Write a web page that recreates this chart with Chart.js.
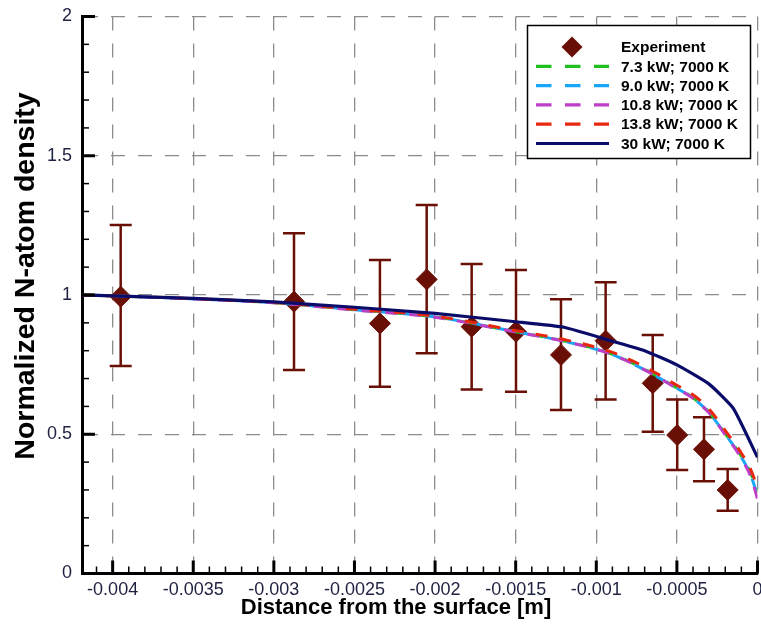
<!DOCTYPE html>
<html lang="en">
<head>
  <meta charset="UTF-8" />
  <title>Normalized N-atom density</title>
  <script src="https://cdn.jsdelivr.net/npm/chart.js"></script>
  <style>
    body { margin: 0; background: #fff; }
    #chart { display: block; }
  </style>
</head>
<body>
<canvas id="chart" width="761" height="626"></canvas>
<script>
// axis ticks
const xTickValues = [-0.004, -0.0035, -0.003, -0.0025, -0.002, -0.0015, -0.001, -0.0005, 0];
const xTickLabels = ['-0.004', '-0.0035', '-0.003', '-0.0025', '-0.002', '-0.0015', '-0.001', '-0.0005', '0'];
const yTickValues = [0, 0.5, 1, 1.5, 2];
const yTickLabels = ['0', '0.5', '1', '1.5', '2'];

// experiment with error bars
const expX    = [-0.00395, -0.002875, -0.002342, -0.002052, -0.001773, -0.001498, -0.001219, -0.000942, -0.00065, -0.000498, -0.000332, -0.000185];
const expY    = [0.994, 0.976, 0.898, 1.056, 0.886, 0.868, 0.785, 0.836, 0.683, 0.497, 0.446, 0.300];
const expLow  = [0.745, 0.731, 0.671, 0.791, 0.661, 0.653, 0.587, 0.625, 0.509, 0.372, 0.331, 0.225];
const expHigh = [1.251, 1.222, 1.126, 1.323, 1.111, 1.090, 0.985, 1.046, 0.856, 0.625, 0.561, 0.375];

// simulations
const curveX = [-0.00419, -0.004, -0.0035, -0.003, -0.0025, -0.002, -0.0015, -0.0012, -0.0009, -0.0007, -0.0005, -0.0004, -0.0003, -0.0002, -0.0001, -0.00004, 0];
const y73  = [1.0, 0.997, 0.986, 0.972, 0.947, 0.921, 0.868, 0.835, 0.787, 0.733, 0.666, 0.631, 0.579, 0.502, 0.421, 0.357, 0.290];
const y90  = [1.0, 0.997, 0.986, 0.972, 0.947, 0.921, 0.868, 0.834, 0.786, 0.731, 0.665, 0.630, 0.577, 0.500, 0.417, 0.350, 0.280];
const y108 = [1.0, 0.997, 0.986, 0.972, 0.946, 0.920, 0.867, 0.834, 0.786, 0.731, 0.664, 0.629, 0.576, 0.498, 0.413, 0.345, 0.268];
const y138 = [1.0, 0.997, 0.987, 0.973, 0.949, 0.924, 0.872, 0.840, 0.794, 0.742, 0.676, 0.642, 0.590, 0.513, 0.432, 0.370, 0.307];
const x30  = [-0.00419, -0.004, -0.0035, -0.003, -0.0025, -0.002, -0.0015, -0.0012, -0.0009, -0.0007, -0.0005, -0.0003, -0.00015, 0];
const y30  = [1.0, 0.997, 0.988, 0.975, 0.956, 0.934, 0.904, 0.884, 0.834, 0.800, 0.749, 0.680, 0.593, 0.417];

const expColor = '#6a0f05';
const labelColor = '#1e2140';
const pts = (xs, ys) => xs.map((x, i) => ({ x, y: ys[i] }));

function curve(label, ys, color, offset) {
  return {
    type: 'line', label, data: pts(curveX, ys),
    borderColor: color, borderWidth: 3, borderDash: [12, 12], borderDashOffset: offset,
    pointRadius: 0, cubicInterpolationMode: 'monotone', fill: false
  };
}

const ds30 = {
  type: 'line', label: '30 kW; 7000 K', data: pts(x30, y30),
  borderColor: '#0b0c6a', borderWidth: 3.2, pointRadius: 0, tension: 0.15, fill: false
};
const ds138 = curve('13.8 kW; 7000 K', y138, '#e8280e', 0);
const ds108 = curve('10.8 kW; 7000 K', y108, '#bf3ec9', 8);
const ds90  = curve('9.0 kW; 7000 K', y90, '#1aa6f7', 16);
const ds73  = curve('7.3 kW; 7000 K', y73, '#1fbf1f', 4);
const dsExp = {
  type: 'scatter', label: 'Experiment', data: pts(expX, expY),
  pointStyle: 'rectRot', pointRadius: 10.5, pointHoverRadius: 10.5,
  backgroundColor: expColor, borderColor: expColor, borderWidth: 1
};

const legendOrder = [dsExp, ds73, ds90, ds108, ds138, ds30];

// error bars under the diamonds and curves
const errorBars = {
  id: 'errorBars',
  beforeDatasetsDraw(chart) {
    const { ctx, scales: { x, y } } = chart;
    ctx.save();
    ctx.strokeStyle = expColor;
    ctx.lineWidth = 2.5;
    expX.forEach((v, i) => {
      const px = x.getPixelForValue(v);
      const top = y.getPixelForValue(expHigh[i]);
      const bot = y.getPixelForValue(expLow[i]);
      ctx.beginPath();
      ctx.moveTo(px, top); ctx.lineTo(px, bot);
      ctx.moveTo(px - 11, top); ctx.lineTo(px + 11, top);
      ctx.moveTo(px - 11, bot); ctx.lineTo(px + 11, bot);
      ctx.stroke();
    });
    ctx.restore();
  }
};

// inward major/minor ticks, x labels, axis titles, legend box
const frame = {
  id: 'frame',
  afterDatasetsDraw(chart) {
    const { ctx, chartArea: a, scales: { x, y } } = chart;
    ctx.save();
    ctx.strokeStyle = '#000';
    ctx.lineCap = 'butt';
    for (let k = -41; k <= 0; k++) {
      const px = x.getPixelForValue(k * 0.0001);
      const major = k % 5 === 0;
      ctx.lineWidth = major ? 3 : 1.5;
      ctx.beginPath();
      ctx.moveTo(px, a.bottom); ctx.lineTo(px, a.bottom - (major ? 13 : 7));
      ctx.stroke();
    }
    for (let k = 0; k <= 20; k++) {
      const py = y.getPixelForValue(k * 0.1);
      const major = k % 5 === 0;
      ctx.lineWidth = major ? 3 : 1.5;
      ctx.beginPath();
      ctx.moveTo(a.left, py); ctx.lineTo(a.left + (major ? 13 : 7), py);
      ctx.stroke();
    }

    ctx.fillStyle = labelColor;
    ctx.textAlign = 'center';
    ctx.textBaseline = 'middle';
    ctx.font = '18px "Liberation Sans", Arial, sans-serif';
    xTickValues.forEach((v, i) => {
      ctx.fillText(xTickLabels[i], x.getPixelForValue(v), a.bottom + 17);
    });

    ctx.fillStyle = '#000';
    ctx.font = 'bold 22px "Liberation Sans", Arial, sans-serif';
    ctx.fillText('Distance from the surface [m]', 396, 608);
    ctx.font = 'bold 28.5px "Liberation Sans", Arial, sans-serif';
    ctx.translate(26, 276);
    ctx.rotate(-Math.PI / 2);
    ctx.fillText('Normalized N-atom density', 0, 0);
    ctx.restore();
  },
  afterDraw(chart) {
    const { ctx } = chart;
    ctx.save();
    ctx.fillStyle = '#fff';
    ctx.strokeStyle = '#000';
    ctx.lineWidth = 1.5;
    ctx.fillRect(527.5, 25.5, 223, 133);
    ctx.strokeRect(527.5, 25.5, 223, 133);
    ctx.font = 'bold 15.5px "Liberation Sans", Arial, sans-serif';
    ctx.textBaseline = 'middle';
    ctx.textAlign = 'left';
    legendOrder.forEach((d, i) => {
      const cy = 47 + i * 19.3;
      if (d === dsExp) {
        ctx.fillStyle = expColor;
        ctx.beginPath();
        ctx.moveTo(572, cy - 10.5); ctx.lineTo(582.5, cy);
        ctx.lineTo(572, cy + 10.5); ctx.lineTo(561.5, cy);
        ctx.closePath(); ctx.fill();
      } else {
        ctx.strokeStyle = d.borderColor;
        ctx.lineWidth = 3.2;
        ctx.setLineDash(d.borderDash ? [15.5, 13.5] : []);
        ctx.beginPath();
        ctx.moveTo(536, cy); ctx.lineTo(609, cy);
        ctx.stroke();
        ctx.setLineDash([]);
      }
      ctx.fillStyle = '#000';
      ctx.fillText(d.label, 621, cy + 1);
    });
    ctx.restore();
  }
};

const gridStyle = { color: '#8c8c8c', lineWidth: 1.3, drawTicks: false };

new Chart(document.getElementById('chart'), {
  data: { datasets: [ds30, ds138, ds108, ds90, ds73, dsExp] },
  options: {
    responsive: false,
    animation: false,
    devicePixelRatio: 1,
    layout: { autoPadding: false, padding: { top: 16.5, right: 3.5, left: 0, bottom: 0 } },
    plugins: { legend: { display: false }, tooltip: { enabled: false } },
    scales: {
      x: {
        type: 'linear', min: -0.00419, max: 0,
        afterBuildTicks: s => { s.ticks = xTickValues.map(v => ({ value: v })); },
        afterFit: s => { s.height = 52.5; },
        ticks: { display: false },
        grid: gridStyle,
        border: { color: '#000', width: 3, dash: [14, 13] }
      },
      y: {
        type: 'linear', min: 0, max: 2,
        afterBuildTicks: s => { s.ticks = yTickValues.map(v => ({ value: v })); },
        afterFit: s => { s.width = 82; s.paddingTop = 0; s.paddingBottom = 0; },
        ticks: {
          callback: (v, i) => yTickLabels[i],
          font: { family: '"Liberation Sans", Arial, sans-serif', size: 18 },
          color: labelColor, padding: 10
        },
        grid: gridStyle,
        border: { color: '#000', width: 3, dash: [14, 13] }
      }
    }
  },
  plugins: [errorBars, frame]
});
</script>
</body>
</html>
